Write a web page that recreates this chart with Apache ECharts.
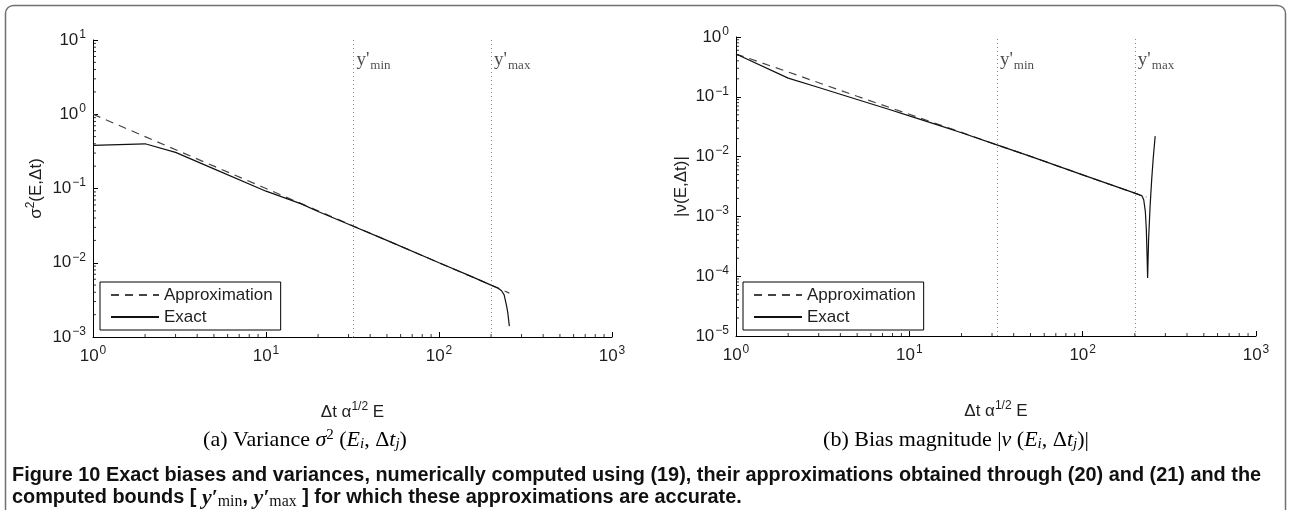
<!DOCTYPE html>
<html><head><meta charset="utf-8">
<script src="https://cdn.jsdelivr.net/npm/echarts@6/dist/echarts.min.js"></script>
<style>html,body{margin:0;padding:0;background:#fff}#c{width:1291px;height:510px}</style>
</head><body><div id="c"></div>
<script>
// ---------- data ----------
const xLimits = [1, 1000];
const varianceYLimits = [1e-3, 10];
const biasYLimits = [1e-5, 1];
const boundMin = 32;     // y'min
const boundMax = 200;    // y'max
const boundLabels = ["y'min", "y'max"];

// (a) variance
const varApproxX = [1, 2, 5, 10, 20, 50, 100, 200, 255];
const varApproxY = [1.0, 0.5, 0.2, 0.1, 0.05, 0.02, 0.01, 0.005, 0.0039];
const varExactX  = [1, 2, 3, 5, 10, 16, 20, 30, 50, 100, 150, 200, 219, 230, 238, 246, 250, 255];
const varExactY  = [0.38, 0.40, 0.307, 0.184, 0.092, 0.062, 0.049, 0.033, 0.02, 0.01, 0.0067, 0.005, 0.00457, 0.0042, 0.0037, 0.0026, 0.0021, 0.0014];

// (b) bias magnitude
const biasApproxX = [1, 2, 5, 10, 20, 32, 50, 100, 200, 233];
const biasApproxY = [0.52, 0.26, 0.102, 0.051, 0.0254, 0.0157, 0.0101, 0.00495, 0.00245, 0.0021];
const biasExactX  = [1, 2, 3, 5, 7.67, 10, 15, 20, 32, 50, 100, 200, 220, 225, 230, 233, 235, 237, 240, 245, 250, 255, 262];
const biasExactY  = [0.52, 0.205, 0.143, 0.0903, 0.0614, 0.048, 0.033, 0.025, 0.0157, 0.0101, 0.00495, 0.00245, 0.0022, 0.0019, 0.0012, 0.0006, 0.00025, 0.000093, 0.0004, 0.0015, 0.004, 0.009, 0.022];

const seriesNames = ['Approximation', 'Exact'];
const xAxisName = ['Δt α', '1/2', ' E'];
const subCaptionA = '{n|(a) Variance }{i|σ}{sup|2}{n| (}{i|E}{sub|i}{n|, Δ}{i|t}{sub|j}{n|)}';
const subCaptionB = '{n|(b) Bias magnitude |}{i|ν}{n| (}{i|E}{sub|i}{n|, Δ}{i|t}{sub|j}{n|)|}';
const captionLine1 = 'Figure 10 Exact biases and variances, numerically computed using (19), their approximations obtained through (20) and (21) and the';
const captionLine2Parts = ['computed bounds [ ', 'y′', 'min', ', ', 'y′', 'max', ' ] for which these approximations are accurate.'];
const minorMultipliers = [2, 3, 4, 5, 6, 7, 8, 9];

// ---------- helpers ----------
const zip = (xs, ys) => xs.map((x, i) => [x, ys[i]]);
const SANS = "'Liberation Sans', Arial, sans-serif";
const SERIF = "'Liberation Serif', 'Times New Roman', serif";
const TXT = '#1e1e1e';

function powLabel(v) {
  const e = Math.round(Math.log10(v));
  return '{b|10}{s|' + (e < 0 ? '−' + (-e) : e) + '}';
}
const powRich = {
  b: { fontSize: 17, fontFamily: SANS, color: TXT },
  s: { fontSize: 12, fontFamily: SANS, color: TXT, padding: [0, 0, 11, 1] }
};

function minorX(yMin) {
  const out = [];
  const d0 = Math.round(Math.log10(xLimits[0])), d1 = Math.round(Math.log10(xLimits[1]));
  for (let d = d0; d < d1; d++) minorMultipliers.forEach(k => out.push([k * Math.pow(10, d), yMin]));
  return out;
}
function minorY(lims) {
  const out = [];
  const d0 = Math.round(Math.log10(lims[0])), d1 = Math.round(Math.log10(lims[1]));
  for (let d = d0; d < d1; d++) minorMultipliers.forEach(k => out.push([xLimits[0], k * Math.pow(10, d)]));
  return out;
}

function xAxisCfg(gi) {
  return {
    type: 'log', logBase: 10, gridIndex: gi, min: xLimits[0], max: xLimits[1], splitNumber: 3,
    axisLine: { lineStyle: { color: '#000', width: 1 } },
    axisTick: { inside: true, length: 5, lineStyle: { color: '#000' } },
    splitLine: { show: false },
    axisLabel: { formatter: powLabel, rich: powRich, margin: 8, color: TXT },
    name: '{n|' + xAxisName[0] + '}{s|' + xAxisName[1] + '}{n|' + xAxisName[2] + '}',
    nameLocation: 'middle', nameGap: 64,
    nameTextStyle: { rich: {
      n: { fontSize: 17, fontFamily: SANS, color: TXT },
      s: { fontSize: 12, fontFamily: SANS, color: TXT, padding: [0, 0, 10, 0] } } }
  };
}
function yAxisCfg(gi, lims, name, nameRich) {
  return {
    type: 'log', logBase: 10, gridIndex: gi, min: lims[0], max: lims[1],
    splitNumber: Math.round(Math.log10(lims[1] / lims[0])),
    axisLine: { lineStyle: { color: '#000', width: 1 } },
    axisTick: { inside: true, length: 5, lineStyle: { color: '#000' } },
    splitLine: { show: false },
    axisLabel: { formatter: powLabel, rich: powRich, margin: 7, color: TXT },
    name: name, nameLocation: 'middle', nameGap: 46, nameRotate: 90,
    nameTextStyle: { rich: nameRich }
  };
}

const nameRich = {
  n: { fontSize: 17, fontFamily: SANS, color: TXT },
  s: { fontSize: 12, fontFamily: SANS, color: TXT, padding: [0, 0, 10, 0] }
};

function plotSeries(gi, approx, exact, labelY, yLims) {
  const common = { xAxisIndex: gi, yAxisIndex: gi, symbol: 'none', showSymbol: false, animation: false, silent: true };
  const tickStyle = { color: '#000' };
  return [
    Object.assign({ type: 'line', name: seriesNames[0], data: approx, z: 3,
      itemStyle: { color: '#444' },
      lineStyle: { color: '#444', width: 1.2, type: [8, 6] } }, common),
    Object.assign({ type: 'line', name: seriesNames[1], data: exact, z: 4,
      itemStyle: { color: '#111' },
      lineStyle: { color: '#111', width: 1.2 },
      markLine: { silent: true, symbol: ['none', 'none'], animation: false,
        lineStyle: { type: [1, 3], color: '#8a8a8a', width: 1 },
        label: { show: false },
        data: [{ xAxis: boundMin }, { xAxis: boundMax }] } }, common),
    { type: 'scatter', xAxisIndex: gi, yAxisIndex: gi, silent: true, animation: false,
      symbolSize: 0, z: 5, clip: false,
      data: [[boundMin, labelY], [boundMax, labelY]].map((p, i) => ({ value: p, name: boundLabels[i] })),
      label: { show: true, position: 'right', distance: 3,
        formatter: p => "{y|y'}{s|" + p.name.slice(2) + '}',
        rich: { y: { fontSize: 19, fontFamily: SERIF, color: TXT },
                s: { fontSize: 13, fontFamily: SERIF, color: TXT, padding: [12, 0, 0, 1] } } } },
    { type: 'scatter', xAxisIndex: gi, yAxisIndex: gi, silent: true, animation: false, clip: false,
      symbol: 'rect', symbolSize: [1, 3], symbolOffset: [0, -1.5], itemStyle: tickStyle,
      data: minorX(yLims[0]) },
    { type: 'scatter', xAxisIndex: gi, yAxisIndex: gi, silent: true, animation: false, clip: false,
      symbol: 'rect', symbolSize: [3, 1], symbolOffset: [1.5, 0], itemStyle: tickStyle,
      data: minorY(yLims) }
  ];
}

function legendCfg(left, top) {
  return {
    left: left, top: top, orient: 'vertical', data: seriesNames, selectedMode: false,
    padding: [3, 8, 3, 10], itemGap: 2, itemWidth: 48, itemHeight: 14,
    borderColor: '#000', borderWidth: 1, borderRadius: 0, backgroundColor: '#fff',
    itemStyle: { opacity: 0, borderWidth: 0 },
    textStyle: { fontSize: 17, fontFamily: SANS, color: TXT, lineHeight: 20 }
  };
}

// caption fitting
function fitSize(text, font, target) {
  const c = document.createElement('canvas').getContext('2d');
  c.font = 'bold 100px ' + font;
  return 100 * target / c.measureText(text).width;
}
const CAPFONT = "'Liberation Sans', Arial, sans-serif";
const capSize = fitSize(captionLine1, CAPFONT, 1250);

const chart = echarts.init(document.getElementById('c'), null, { renderer: 'canvas' });
chart.setOption({
  animation: false,
  backgroundColor: '#fff',
  grid: [
    { left: 93, top: 40, width: 519, height: 297 },
    { left: 736, top: 37, width: 520, height: 299 }
  ],
  xAxis: [xAxisCfg(0), xAxisCfg(1)],
  yAxis: [
    yAxisCfg(0, varianceYLimits, '{n|σ}{s|2}{n|(E,Δt)}', nameRich),
    yAxisCfg(1, biasYLimits, '{n||ν(E,Δt)|}', nameRich)
  ],
  legend: [legendCfg(100, 282), legendCfg(743, 282)],
  series: [].concat(
    plotSeries(0, zip(varApproxX, varApproxY), zip(varExactX, varExactY), 5.4, varianceYLimits),
    plotSeries(1, zip(biasApproxX, biasApproxY), zip(biasExactX, biasExactY), 0.42, biasYLimits)
  ),
  graphic: [
    { type: 'rect', silent: true, z: 100,
      shape: { x: 5.5, y: 5.5, width: 1280, height: 540, r: 8 },
      style: { fill: 'none', stroke: '#707070', lineWidth: 1.5 } },
    { type: 'text', silent: true, x: 305, y: 440,
      style: { text: subCaptionA, align: 'center', verticalAlign: 'middle',
        rich: {
          n: { fontSize: 22, fontFamily: SERIF, color: '#111' },
          i: { fontSize: 22, fontFamily: SERIF, fontStyle: 'italic', color: '#111' },
          sup: { fontSize: 15, fontFamily: SERIF, color: '#111', padding: [0, 0, 10, 0] },
          sub: { fontSize: 15, fontFamily: SERIF, fontStyle: 'italic', color: '#111', padding: [9, 0, 0, 0] } } } },
    { type: 'text', silent: true, x: 956, y: 440,
      style: { text: subCaptionB, align: 'center', verticalAlign: 'middle',
        rich: {
          n: { fontSize: 22, fontFamily: SERIF, color: '#111' },
          i: { fontSize: 22, fontFamily: SERIF, fontStyle: 'italic', color: '#111' },
          sup: { fontSize: 15, fontFamily: SERIF, color: '#111', padding: [0, 0, 10, 0] },
          sub: { fontSize: 15, fontFamily: SERIF, fontStyle: 'italic', color: '#111', padding: [9, 0, 0, 0] } } } },
    { type: 'text', silent: true, x: 12, y: 476,
      style: { text: captionLine1, align: 'left', verticalAlign: 'middle',
        font: 'bold ' + capSize.toFixed(2) + 'px ' + CAPFONT, fill: '#111' } },
    { type: 'text', silent: true, x: 12, y: 498,
      style: { align: 'left', verticalAlign: 'middle',
        text: '{b|' + captionLine2Parts[0] + '}{m|' + captionLine2Parts[1] + '}{s|' + captionLine2Parts[2] + '}{b|' +
              captionLine2Parts[3] + '}{m|' + captionLine2Parts[4] + '}{s|' + captionLine2Parts[5] + '}{b|' + captionLine2Parts[6] + '}',
        rich: {
          b: { font: 'bold ' + capSize.toFixed(2) + 'px ' + CAPFONT, fill: '#111' },
          m: { font: 'italic bold ' + (capSize + 2).toFixed(2) + 'px ' + SERIF, fill: '#111' },
          s: { font: (capSize - 4).toFixed(2) + 'px ' + SERIF, fill: '#111', padding: [8, 0, 0, 0] } } } }
  ]
});
</script></body></html>
